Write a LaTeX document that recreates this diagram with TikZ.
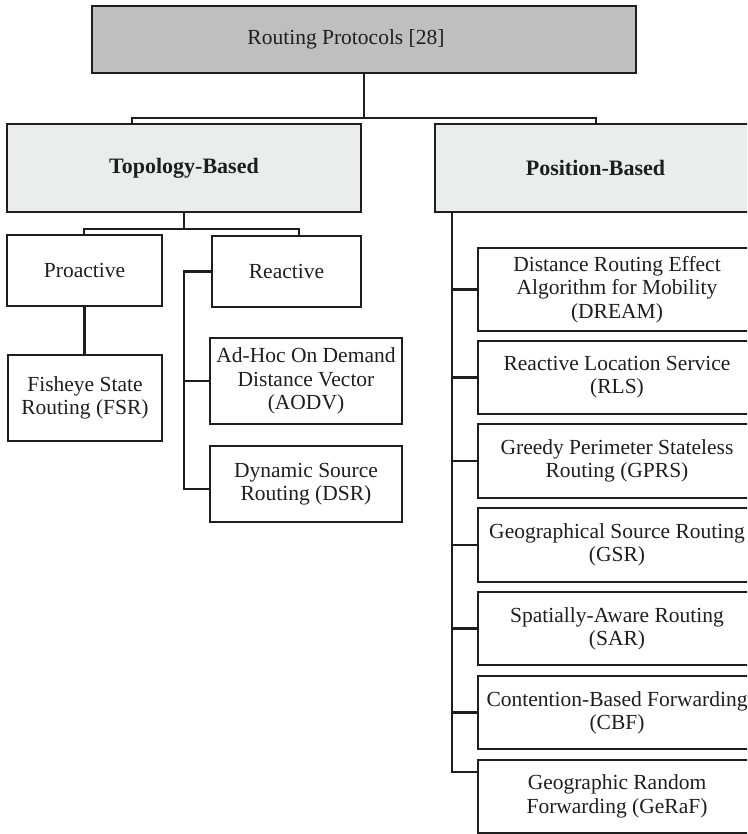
\documentclass[tikz,border=0pt]{standalone}
\usepackage{fontspec}
\setmainfont{Liberation Serif}
\definecolor{rootgray}{HTML}{BFBFBF}
\definecolor{catgray}{HTML}{EBEDEC}
\definecolor{ink}{HTML}{1E1E1E}
\tikzset{
  box/.style={draw=ink, line width=2.2pt, inner sep=0pt, outer sep=0pt, align=center,
    font=\fontsize{21.5}{23.3}\selectfont, text=ink},
  catbox/.style={box, fill=catgray, font=\fontsize{22}{24}\selectfont\bfseries},
  label text/.style={inner sep=0pt, text=ink},
  link/.style={draw=ink, line width=2.2pt},
}
\begin{document}
\begin{tikzpicture}[x=1pt, y=-1pt]
\useasboundingbox (0,0) rectangle (747,834);
\clip (0,0) rectangle (747,834);

% top level
\node[box, fill=rootgray, minimum width=544pt, minimum height=67pt] (root) at (364,39.5) {};
\node[label text, font=\fontsize{21.5}{24}\selectfont] (roottxt) at (346,39.5)
  {Routing Protocols [28]};

% two families
\node[catbox, minimum width=354pt, minimum height=88pt] (topo) at (184,168) {Topology-Based};
\node[catbox, minimum width=321pt, minimum height=88pt] (posb) at (595.5,168) {Position-Based};

% topology-based branch
\node[box, minimum width=155pt, minimum height=71pt] (pro) at (84.5,270.5) {Proactive};
\node[box, minimum width=149pt, minimum height=71pt] (rea) at (286.5,271.5) {Reactive};
\node[box, minimum width=154pt, minimum height=86pt] (fsr) at (85,398) {Fisheye State\\Routing (FSR)};
\node[box, minimum width=192pt, minimum height=86pt] (aodv) at (306,381) {Ad-Hoc On Demand\\Distance Vector\\(AODV)};
\node[box, minimum width=192pt, minimum height=76pt] (dsr) at (306,484) {Dynamic Source\\Routing (DSR)};

% position-based branch
\node[box, minimum width=278pt, minimum height=83pt] (dream) at (617,289.5) {Distance Routing Effect\\Algorithm for Mobility\\(DREAM)};
\node[box, minimum width=278pt, minimum height=73pt] (rls) at (617,377.5) {Reactive Location Service\\(RLS)};
\node[box, minimum width=278pt, minimum height=74pt] (gprs) at (617,461) {Greedy Perimeter Stateless\\Routing (GPRS)};
\node[box, minimum width=278pt, minimum height=74pt] (gsr) at (617,545) {Geographical Source Routing\\(GSR)};
\node[box, minimum width=278pt, minimum height=73pt] (sar) at (617,628.5) {Spatially-Aware Routing\\(SAR)};
\node[box, minimum width=278pt, minimum height=73pt] (cbf) at (617,712.5) {Contention-Based Forwarding\\(CBF)};
\node[box, minimum width=278pt, minimum height=73pt] (geraf) at (617,796.5) {Geographic Random\\Forwarding (GeRaF)};

% connectors: root to families
\coordinate (tl) at (132,118);
\coordinate (tr) at (596,118);
\draw[link] (root.south) -- (root.south |- tl);
\draw[link] (tl |- topo.north) -- (tl) -- (tr) -- (tr |- posb.north);

% topology-based connectors
\coordinate (ml) at (84,229);
\coordinate (mr) at (299,229);
\draw[link] (topo.south) -- (topo.south |- ml);
\draw[link] (ml |- pro.north) -- (ml) -- (mr) -- (mr |- rea.north);
\draw[link] (pro.south) -- (pro.south |- fsr.north);
\coordinate (rt) at (184,489);
\draw[link] (rea.west) -- (rea.west -| rt) -- (rt) -- (rt -| dsr.west);
\draw[link] (rt |- aodv.west) -- (aodv.west);

% position-based connectors
\coordinate (pt) at (452,772);
\draw[link] (pt |- posb.south) -- (pt) -- (pt -| geraf.west);
\foreach \n in {dream,rls,gprs,gsr,sar,cbf}
  \draw[link] (pt |- \n.west) -- (\n.west);
\end{tikzpicture}
\end{document}
